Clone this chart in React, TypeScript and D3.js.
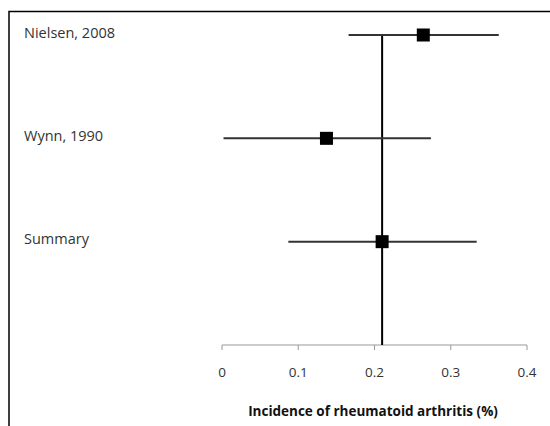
import React from "react";
import * as d3 from "d3";

const studies = ["Nielsen, 2008", "Wynn, 1990", "Summary"];
const estimates = [0.264, 0.137, 0.21];
const lowers = [0.166, 0.002, 0.087];
const uppers = [0.363, 0.274, 0.334];
const tickValues = [0, 0.1, 0.2, 0.3, 0.4];
const tickLabels = ["0", "0.1", "0.2", "0.3", "0.4"];
const summaryValue = 0.21;
const axisTitle = "Incidence of rheumatoid arthritis (%)";

export default function App() {
  const W = 550;
  const H = 426;
  const x = d3.scaleLinear().domain([0, 0.4]).range([222, 527]);
  const rows = [...studies, "__axis"];
  const y = d3.scalePoint<string>().domain(rows).range([35, 345]);
  const axisY = y("__axis")!;
  const font = "'Open Sans', sans-serif";
  const sq = 13;

  return (
    <svg
      width={W}
      height={H}
      style={{ position: "absolute", left: 0, top: 0, background: "#fff" }}
    >
      {/* frame */}
      <rect x={9} y={11.5} width={600} height={500} fill="none" stroke="#000" strokeWidth={1.5} />

      {/* axis */}
      <line x1={x(0)} x2={x(0.4)} y1={axisY} y2={axisY} stroke="#999" strokeWidth={1} />
      {tickValues.map((t, i) => (
        <g key={i}>
          <line x1={x(t)} x2={x(t)} y1={axisY} y2={axisY + 5} stroke="#999" strokeWidth={1} />
          <text
            x={x(t)}
            y={372}
            textAnchor="middle"
            dominantBaseline="central"
            fontFamily={font}
            fontSize={13.5}
            fill="#333"
          >
            {tickLabels[i]}
          </text>
        </g>
      ))}
      <text
        x={373}
        y={411}
        textAnchor="middle"
        dominantBaseline="central"
        fontFamily={font}
        fontSize={13.5}
        fontWeight="bold"
        fill="#111"
      >
        {axisTitle}
      </text>

      {/* summary vertical line */}
      <line
        x1={x(summaryValue)}
        x2={x(summaryValue)}
        y1={y(studies[0])!}
        y2={axisY}
        stroke="#000"
        strokeWidth={2}
      />

      {studies.map((s, i) => {
        const cy = y(s)!;
        return (
          <g key={s}>
            <text
              x={24}
              y={cy - 3}
              dominantBaseline="central"
              fontFamily={font}
              fontSize={14.5}
              fill="#333"
            >
              {s}
            </text>
            <line x1={x(lowers[i])} x2={x(uppers[i])} y1={cy} y2={cy} stroke="#333" strokeWidth={2} />
            <rect x={x(estimates[i]) - sq / 2} y={cy - sq / 2} width={sq} height={sq} fill="#000" />
          </g>
        );
      })}
    </svg>
  );
}
